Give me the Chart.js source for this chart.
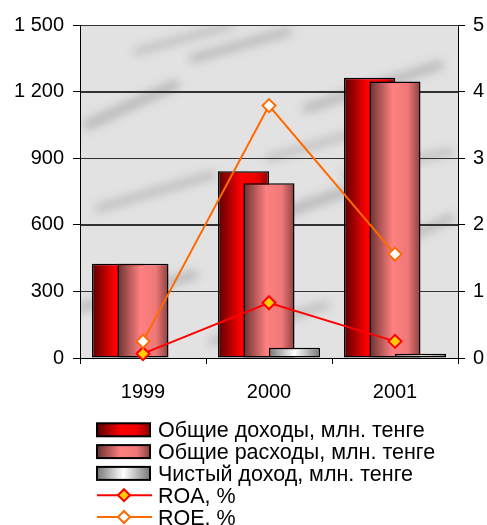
<!DOCTYPE html>
<html><head><meta charset="utf-8">
<script src="https://cdn.jsdelivr.net/npm/chart.js@4/dist/chart.umd.min.js"></script>
<style>html,body{margin:0;padding:0;background:#fff}#wrap{width:487px;height:525px;position:relative}</style>
</head><body><div id="wrap"><canvas id="c"></canvas></div>
<script>
const categories = ['1999', '2000', '2001'];
const totalIncome = [425, 841, 1262];
const totalExpense = [424, 787, 1245];
const netIncome = [2, 46, 19];
const roa = [0.065, 0.83, 0.25];
const roe = [0.25, 3.79, 1.56];
const leftTickLabels = ['0', '300', '600', '900', '1 200', '1 500'];
const rightTickLabels = ['0', '1', '2', '3', '4', '5'];
const seriesNames = ['Общие доходы, млн. тенге', 'Общие расходы, млн. тенге', 'Чистый доход, млн. тенге', 'ROA, %', 'ROE, %'];

const FONT = '"Liberation Sans", Arial, sans-serif';
const GRADS = [
  [[0, '#5a0000'], [0.45, '#ff0000'], [0.75, '#ee0000'], [1, '#900000']],
  [[0, '#6a3030'], [0.45, '#ff8080'], [0.75, '#f07878'], [1, '#8a4040']],
  [[0, '#777777'], [0.5, '#ffffff'], [1, '#777777']]
];
// decorative marble streaks (fractions of plot area): x0,y0,x1,y1,width
const STREAKS = [
  [0.02, 0.30, 0.25, 0.18, 10], [0.30, 0.10, 0.55, 0.02, 8], [0.60, 0.25, 0.95, 0.12, 9],
  [0.05, 0.55, 0.35, 0.45, 7], [0.40, 0.62, 0.70, 0.50, 10], [0.75, 0.70, 0.98, 0.58, 8],
  [0.00, 0.85, 0.30, 0.75, 9], [0.35, 0.95, 0.65, 0.84, 7], [0.70, 0.45, 0.98, 0.38, 6],
  [0.15, 0.08, 0.40, 0.00, 6], [0.50, 0.40, 0.80, 0.30, 6]
];
function grad(ctx, x0, x1, stops) {
  const g = ctx.createLinearGradient(x0, 0, x1, 0);
  stops.forEach(s => g.addColorStop(s[0], s[1]));
  return g;
}

const bgPlugin = {
  id: 'bg',
  beforeDraw(chart) {
    const {ctx, chartArea: a} = chart;
    const w = a.right - a.left, h = a.bottom - a.top;
    ctx.save();
    ctx.beginPath(); ctx.rect(a.left, a.top, w, h); ctx.clip();
    ctx.fillStyle = '#e2e2e2';
    ctx.fillRect(a.left, a.top, w, h);
    ctx.filter = 'blur(5px)';
    ctx.strokeStyle = 'rgba(150,150,150,0.55)';
    ctx.lineCap = 'round';
    STREAKS.forEach(s => {
      ctx.lineWidth = s[4];
      ctx.beginPath();
      ctx.moveTo(a.left + s[0] * w, a.top + s[1] * h);
      ctx.lineTo(a.left + s[2] * w, a.top + s[3] * h);
      ctx.stroke();
    });
    ctx.restore();
    // horizontal grid lines from the left value scale
    const ys = chart.scales.y;
    ctx.save();
    ctx.strokeStyle = '#333';
    ctx.lineWidth = 1;
    ys.ticks.forEach(t => {
      const y = Math.round(ys.getPixelForValue(t.value)) + 0.5;
      ctx.beginPath(); ctx.moveTo(a.left, y); ctx.lineTo(a.right, y); ctx.stroke();
    });
    ctx.restore();
  }
};

const orderPlugin = {
  id: 'drawOrder',
  beforeDatasetsDraw(chart) {
    const metas = chart.getSortedVisibleDatasetMetas();
    metas.forEach(meta => {
      if (meta.type === 'bar') {
        const stops = GRADS[meta.index];
        meta.data.forEach(el => {
          el.options = Object.assign({}, el.options, {backgroundColor: grad(chart.ctx, el.x - el.width / 2, el.x + el.width / 2, stops)});
        });
      }
    });
    metas.forEach(meta => {
      if (chart._drawDataset) chart._drawDataset(meta); else meta.controller.draw();
    });
    return false;
  }
};

const legendPlugin = {
  id: 'customLegend',
  afterDraw(chart) {
    const ctx = chart.ctx;
    const x0 = 97, sw = 53, tx = 158;
    const base = [437.3, 459.1, 480.9, 502.7, 524.5];
    ctx.save();
    ctx.font = '21.5px ' + FONT;
    ctx.textBaseline = 'alphabetic';
    for (let i = 0; i < 5; i++) {
      const y = base[i] - 7.5;
      const ds = chart.data.datasets[i];
      if (i < 3) {
        ctx.fillStyle = grad(ctx, x0, x0 + sw, GRADS[i]);
        ctx.fillRect(x0, y - 6.5, sw, 13);
        ctx.lineWidth = 2;
        ctx.strokeStyle = '#000';
        ctx.strokeRect(x0, y - 6.5, sw, 13);
      } else {
        ctx.strokeStyle = ds.borderColor;
        ctx.lineWidth = 2;
        ctx.beginPath(); ctx.moveTo(x0, y); ctx.lineTo(x0 + sw + 2, y); ctx.stroke();
        const cx = x0 + 27, r = 6;
        ctx.beginPath();
        ctx.moveTo(cx, y - r); ctx.lineTo(cx + r, y); ctx.lineTo(cx, y + r); ctx.lineTo(cx - r, y); ctx.closePath();
        ctx.fillStyle = ds.pointBackgroundColor; ctx.fill();
        ctx.strokeStyle = ds.pointBorderColor; ctx.stroke();
      }
      ctx.fillStyle = '#000';
      ctx.fillText(seriesNames[i], tx, base[i]);
    }
    ctx.restore();
  }
};

const barCommon = {
  yAxisID: 'y', borderColor: '#000', borderWidth: 1.5, borderSkipped: false,
  categoryPercentage: 0.607, barPercentage: 2.0
};

new Chart(document.getElementById('c'), {
  type: 'bar',
  data: {
    labels: categories,
    datasets: [
      Object.assign({label: seriesNames[0], data: totalIncome, backgroundColor: '#e00000'}, barCommon),
      Object.assign({label: seriesNames[1], data: totalExpense, backgroundColor: '#f08080'}, barCommon),
      Object.assign({label: seriesNames[2], data: netIncome, backgroundColor: '#dddddd'}, barCommon),
      {type: 'line', label: seriesNames[3], data: roa, yAxisID: 'y1', borderColor: '#ff0000', borderWidth: 2,
       pointStyle: 'rectRot', pointRadius: 6.5, pointBorderWidth: 2, pointBackgroundColor: '#ffcc00', pointBorderColor: '#ff0000', tension: 0, clip: 10},
      {type: 'line', label: seriesNames[4], data: roe, yAxisID: 'y1', borderColor: '#ff6a00', borderWidth: 2,
       pointStyle: 'rectRot', pointRadius: 6.5, pointBorderWidth: 2, pointBackgroundColor: '#ffffff', pointBorderColor: '#ff6a00', tension: 0, clip: 10}
    ]
  },
  options: {
    responsive: true, maintainAspectRatio: false, animation: false,
    layout: {padding: {top: 25, bottom: 127, left: 0, right: 0}},
    plugins: {legend: {display: false}, tooltip: {enabled: false}},
    scales: {
      x: {
        grid: {offset: true, drawOnChartArea: false, tickLength: 6, color: '#000', tickColor: '#000'},
        border: {color: '#000', width: 1},
        ticks: {font: {size: 20, family: FONT}, color: '#000', padding: 16},
        afterFit(s) { s.height = 40; }
      },
      y: {
        position: 'left', min: 0, max: 1500,
        grid: {color: '#333', lineWidth: 1, tickLength: 7, tickColor: '#000'},
        border: {color: '#000', width: 1},
        ticks: {stepSize: 300, font: {size: 20, family: FONT}, color: '#000', padding: 9,
                callback: (v, i) => leftTickLabels[i]},
        afterFit(s) { s.width = 80; }
      },
      y1: {
        position: 'right', min: 0, max: 5,
        grid: {drawOnChartArea: false, tickLength: 7, color: '#000', tickColor: '#000'},
        border: {color: '#000', width: 1},
        ticks: {stepSize: 1, font: {size: 20, family: FONT}, color: '#000', padding: 8,
                callback: (v, i) => rightTickLabels[i]},
        afterFit(s) { s.width = 29; }
      }
    }
  },
  plugins: [bgPlugin, orderPlugin, legendPlugin]
});
</script></body></html>
